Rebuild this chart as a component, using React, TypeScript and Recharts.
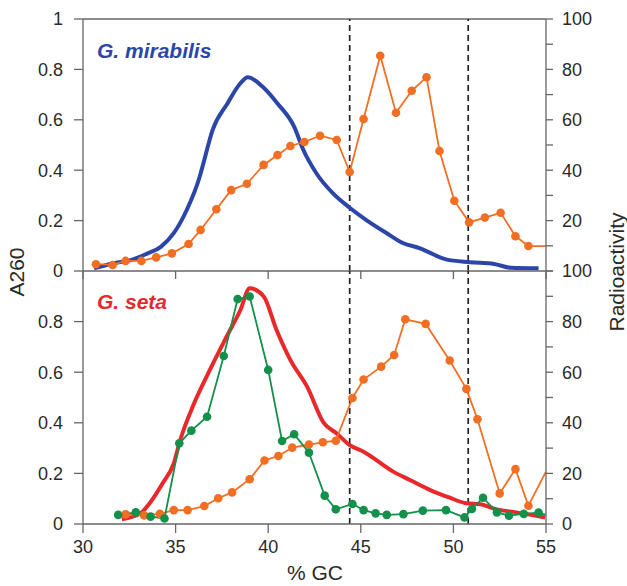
import React from "react"
import { LineChart, Line, XAxis, YAxis, ReferenceLine } from "recharts"

// G. mirabilis, A260 profile
const mirA260Gc = [30.6, 31.6, 32.7, 33.4, 34.2, 34.9, 35.6, 36.3, 36.5, 37.0, 37.8, 38.5, 38.9, 39.7, 40.5, 41.4, 41.9, 42.6, 43.5, 44.4, 45.3, 46.4, 47.3, 48.2, 48.6, 49.6, 50.9, 52.2, 53.1, 54.6]
const mirA260 = [0.011, 0.03, 0.046, 0.067, 0.096, 0.15, 0.242, 0.374, 0.427, 0.56, 0.665, 0.745, 0.769, 0.731, 0.665, 0.573, 0.48, 0.388, 0.308, 0.251, 0.202, 0.15, 0.11, 0.09, 0.077, 0.046, 0.035, 0.028, 0.013, 0.011]

// G. mirabilis, radioactivity
const mirRadGc = [30.7, 31.6, 32.3, 33.15, 33.95, 34.8, 35.7, 36.35, 37.2, 38.0, 38.85, 39.75, 40.5, 41.2, 41.95, 42.8, 43.7, 44.4, 45.15, 46.05, 46.9, 47.75, 48.55, 49.25, 50.05, 50.85, 51.7, 52.55, 53.35, 54.05, 55]
const mirRad = [2.7, 2.4, 4.0, 4.0, 5.4, 7.0, 10.7, 16.3, 24.5, 32.1, 34.6, 42.1, 46.0, 49.6, 51.2, 53.7, 52.0, 39.3, 60.3, 85.4, 62.8, 71.5, 76.9, 47.6, 27.9, 19.3, 21.2, 23.1, 13.8, 9.9, 9.9]

// G. seta, A260 profile
const setaA260Gc = [32.1, 33.1, 33.6, 34.3, 34.9, 35.25, 36.0, 36.85, 37.75, 38.5, 39.0, 39.75, 40.45, 41.2, 42.1, 43.0, 43.7, 44.4, 45.15, 46.75, 47.65, 48.75, 49.8, 50.7, 51.45, 52.35, 53.4, 54.95]
const setaA260 = [0.019, 0.042, 0.082, 0.161, 0.24, 0.332, 0.477, 0.609, 0.74, 0.846, 0.932, 0.9, 0.767, 0.648, 0.543, 0.4, 0.358, 0.312, 0.286, 0.207, 0.174, 0.134, 0.104, 0.082, 0.078, 0.058, 0.046, 0.026]

// G. seta, radioactivity (orange)
const setaRadGc = [32.3, 33.3, 34.15, 34.9, 35.65, 36.55, 37.3, 38.05, 39.0, 39.8, 40.55, 41.3, 42.2, 42.95, 43.65, 44.55, 45.15, 46.1, 46.8, 47.4, 48.5, 49.8, 50.7, 51.3, 52.5, 53.35, 54.05, 55]
const setaRad = [3.8, 3.4, 4.0, 5.5, 5.5, 7.1, 10.2, 12.5, 17.7, 25.1, 26.9, 30.2, 31.4, 32.3, 32.9, 49.8, 57.1, 62.2, 66.8, 80.9, 79.1, 64.6, 53.4, 41.4, 12.1, 21.7, 7.2, 20.7]

// G. seta, second radioactivity profile (green)
const setaRad2Gc = [31.9, 32.85, 33.65, 34.4, 35.2, 35.85, 36.7, 37.6, 38.35, 39.0, 40.0, 40.75, 41.4, 42.2, 43.05, 43.65, 44.55, 45.15, 45.8, 46.4, 47.3, 48.35, 49.6, 50.6, 51.0, 51.6, 52.35, 53.0, 53.8, 54.6, 55]
const setaRad2 = [3.6, 4.6, 2.9, 2.2, 31.9, 36.9, 42.4, 66.4, 88.9, 89.9, 60.9, 32.8, 35.5, 28.2, 11.2, 5.8, 7.9, 5.5, 4.2, 3.6, 3.9, 5.3, 5.5, 2.6, 5.9, 10.4, 4.6, 3.3, 4.0, 4.5, 3.6]

const gcTicks = [30, 35, 40, 45, 50, 55]
const a260Ticks = [0, 0.2, 0.4, 0.6, 0.8, 1]
const radTicks = [0, 10, 20, 30, 40, 50, 60, 70, 80, 90, 100]
const dashedGc = [44.4, 50.8]

const zip = (xs: number[], ys: number[]) => xs.map((x, i) => ({ x, y: ys[i] }))

const BLUE = "#2c46a8"
const ORANGE = "#f26e22"
const RED = "#e8292b"
const GREEN = "#13904a"
const AXIS = "#666"
const FONT = "'Liberation Sans', Arial, sans-serif"

const tickStyle = { fontSize: 18, fill: "#2a2a2a", fontFamily: FONT }

// dots on every point except the last one, which only runs the line to the axis
const dotsButLast = (count: number, color: string) => (props: any) => {
  const { cx, cy, index } = props
  if (index === count - 1) return <g key={`d${index}`} />
  return <circle key={`d${index}`} cx={cx} cy={cy} r={4.3} fill={color} stroke="none" />
}

const W = 627
const H = 586

function TopPanel() {
  return (
    <LineChart width={W} height={H} margin={{ top: 19, right: 0, left: 0, bottom: 305 }}>
      <XAxis
        type="number"
        dataKey="x"
        domain={[30, 55]}
        ticks={gcTicks}
        allowDataOverflow
        height={10}
        stroke={AXIS}
        strokeWidth={1.3}
        tickSize={8}
        tickFormatter={() => ""}
      />
      <YAxis
        yAxisId="l"
        domain={[0, 1]}
        ticks={a260Ticks}
        width={83}
        stroke={AXIS}
        strokeWidth={1.3}
        tickSize={9}
        tickMargin={11}
        tick={tickStyle}
      />
      <YAxis
        yAxisId="r"
        orientation="right"
        domain={[0, 100]}
        ticks={radTicks}
        width={81}
        stroke={AXIS}
        strokeWidth={1.3}
        tickSize={7}
        tickMargin={9}
        tick={tickStyle}
        tickFormatter={(v: number) => (v > 0 && v % 20 === 0 ? String(v) : "")}
      />
      <ReferenceLine yAxisId="l" y={1} stroke={AXIS} strokeWidth={1.3} />
      {dashedGc.map((g) => (
        <ReferenceLine key={g} yAxisId="l" x={g} stroke="#222" strokeWidth={1.7} strokeDasharray="6 4" />
      ))}
      <Line
        yAxisId="l"
        data={zip(mirA260Gc, mirA260)}
        dataKey="y"
        type="monotone"
        stroke={BLUE}
        strokeWidth={4}
        dot={false}
        isAnimationActive={false}
      />
      <Line
        yAxisId="r"
        data={zip(mirRadGc, mirRad)}
        dataKey="y"
        type="linear"
        stroke={ORANGE}
        strokeWidth={1.8}
        dot={dotsButLast(mirRadGc.length, ORANGE)}
        isAnimationActive={false}
      />
    </LineChart>
  )
}

function BottomPanel() {
  return (
    <LineChart width={W} height={H} margin={{ top: 271, right: 0, left: 0, bottom: 22 }}>
      <XAxis
        type="number"
        dataKey="x"
        domain={[30, 55]}
        ticks={gcTicks}
        allowDataOverflow
        height={40}
        stroke={AXIS}
        strokeWidth={1.3}
        tickSize={9}
        tickMargin={7}
        tick={tickStyle}
      />
      <YAxis
        yAxisId="l"
        domain={[0, 1]}
        ticks={a260Ticks.slice(0, 5)}
        width={83}
        stroke={AXIS}
        strokeWidth={1.3}
        tickSize={9}
        tickMargin={11}
        tick={tickStyle}
      />
      <YAxis
        yAxisId="r"
        orientation="right"
        domain={[0, 100]}
        ticks={radTicks}
        width={81}
        stroke={AXIS}
        strokeWidth={1.3}
        tickSize={7}
        tickMargin={9}
        tick={tickStyle}
        tickFormatter={(v: number) => (v % 20 === 0 ? String(v) : "")}
      />
      {dashedGc.map((g) => (
        <ReferenceLine key={g} yAxisId="l" x={g} stroke="#222" strokeWidth={1.7} strokeDasharray="6 4" />
      ))}
      <Line
        yAxisId="l"
        data={zip(setaA260Gc, setaA260)}
        dataKey="y"
        type="monotone"
        stroke={RED}
        strokeWidth={4}
        dot={false}
        isAnimationActive={false}
      />
      <Line
        yAxisId="r"
        data={zip(setaRadGc, setaRad)}
        dataKey="y"
        type="linear"
        stroke={ORANGE}
        strokeWidth={1.8}
        dot={dotsButLast(setaRadGc.length, ORANGE)}
        isAnimationActive={false}
      />
      <Line
        yAxisId="r"
        data={zip(setaRad2Gc, setaRad2)}
        dataKey="y"
        type="linear"
        stroke={GREEN}
        strokeWidth={1.8}
        dot={dotsButLast(setaRad2Gc.length, GREEN)}
        isAnimationActive={false}
      />
    </LineChart>
  )
}

export default function App() {
  const layer: React.CSSProperties = { position: "absolute", left: 0, top: 0 }
  return (
    <div style={{ position: "absolute", left: 0, top: 0, width: W, height: H, background: "#fff", fontFamily: FONT }}>
      <div style={layer}>
        <TopPanel />
      </div>
      <div style={layer}>
        <BottomPanel />
      </div>
      <svg width={W} height={H} style={{ ...layer, pointerEvents: "none" }}>
        <text x={97} y={58} fill={BLUE} fontSize={21} fontWeight="bold" fontStyle="italic" fontFamily={FONT}>
          G. mirabilis
        </text>
        <text x={97} y={309} fill={RED} fontSize={21} fontWeight="bold" fontStyle="italic" fontFamily={FONT}>
          G. seta
        </text>
        <text transform="translate(24,272) rotate(-90)" textAnchor="middle" fontSize={21} fill="#2a2a2a" fontFamily={FONT}>
          A260
        </text>
        <text transform="translate(624,272) rotate(-90)" textAnchor="middle" fontSize={21} fill="#2a2a2a" fontFamily={FONT}>
          Radioactivity
        </text>
        <text x={315} y={580} textAnchor="middle" fontSize={21} fill="#2a2a2a" fontFamily={FONT}>
          % GC
        </text>
      </svg>
    </div>
  )
}
